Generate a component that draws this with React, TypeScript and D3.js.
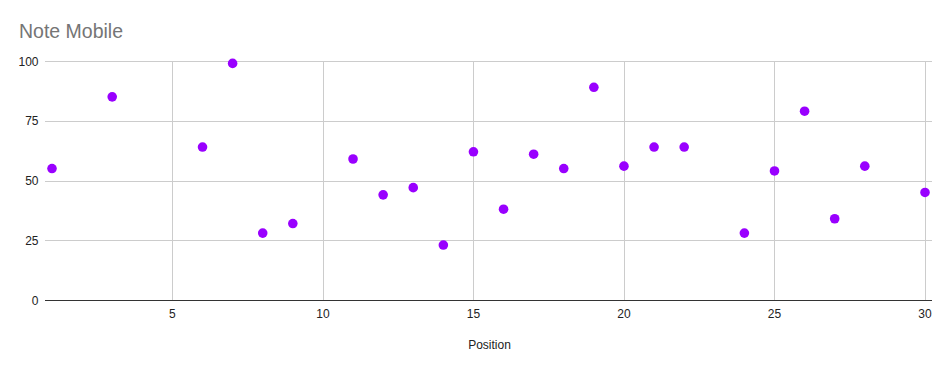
import React from "react";
import * as d3 from "d3";

const positions = [1, 3, 6, 7, 8, 9, 11, 12, 13, 14, 15, 16, 17, 18, 19, 20, 21, 22, 24, 25, 26, 27, 28, 30];
const notes = [55, 85, 64, 99, 28, 32, 59, 44, 47, 23, 62, 38, 61, 55, 89, 56, 64, 64, 28, 54, 79, 34, 56, 45];
const xTicks = [5, 10, 15, 20, 25, 30];
const yTicks = [0, 25, 50, 75, 100];
const title = "Note Mobile";
const xLabel = "Position";

export default function App() {
  const W = 951, H = 371;
  const left = 45, right = 932, top = 61, bottom = 300;
  const x = d3.scaleLinear().domain([1, 30]).range([52, 925]);
  const y = d3.scaleLinear().domain([0, 100]).range([bottom, top]);
  const font = "Arial, 'Liberation Sans', sans-serif";
  return (
    <svg width={W} height={H} style={{ position: "absolute", left: 0, top: 0, background: "#fff" }}>
      <rect width={W} height={H} fill="#fff" />
      <text x={19} y={38} fontFamily={font} fontSize={19.5} fill="#757575">{title}</text>
      {yTicks.map((t) => (
        <g key={"y" + t}>
          {t !== 0 && <line x1={left} x2={right} y1={Math.round(y(t)) + 0.5} y2={Math.round(y(t)) + 0.5} stroke="#cccccc" strokeWidth={1} />}
          <text x={38.5} y={y(t) + 4.5} textAnchor="end" fontFamily={font} fontSize={12} fill="#222">{t}</text>
        </g>
      ))}
      {xTicks.map((t) => (
        <g key={"x" + t}>
          <line x1={Math.round(x(t)) + 0.5} x2={Math.round(x(t)) + 0.5} y1={top} y2={bottom} stroke="#cccccc" strokeWidth={1} />
          <text x={x(t)} y={318} textAnchor="middle" fontFamily={font} fontSize={12} fill="#222">{t}</text>
        </g>
      ))}
      <line x1={left} x2={right} y1={bottom + 0.5} y2={bottom + 0.5} stroke="#333" strokeWidth={1} />
      {positions.map((p, i) => (
        <circle key={i} cx={x(p)} cy={y(notes[i])} r={4.8} fill="#9900ff" />
      ))}
      <text x={489.5} y={349} textAnchor="middle" fontFamily={font} fontSize={12} fill="#222">{xLabel}</text>
    </svg>
  );
}
